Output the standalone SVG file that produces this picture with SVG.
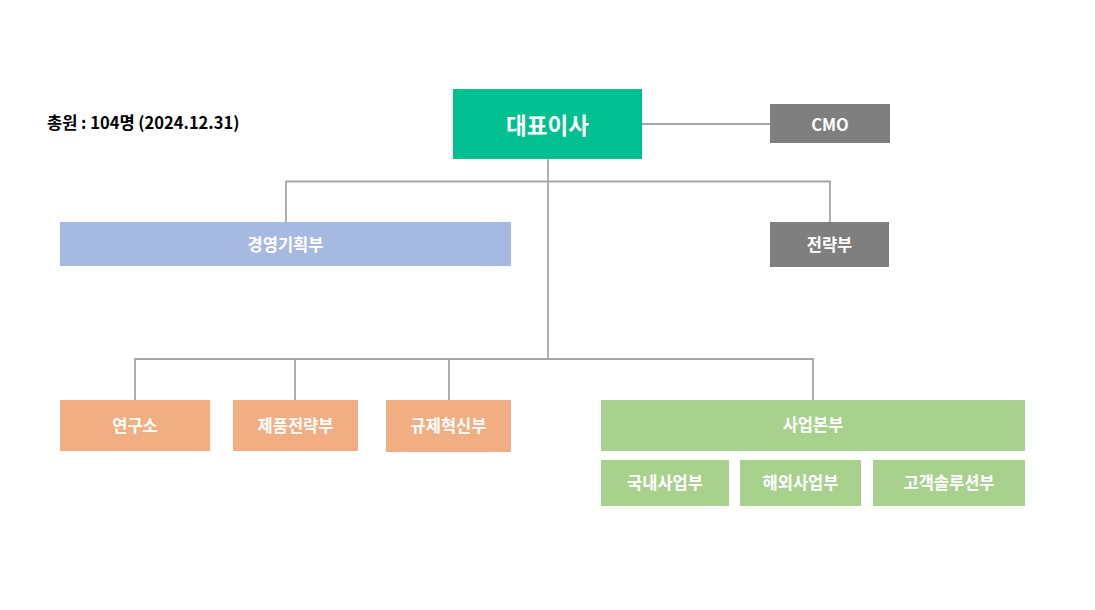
<svg xmlns="http://www.w3.org/2000/svg" width="1095" height="610" viewBox="0 0 1095 610">
<style>
.t{font-family:"Noto Sans CJK KR","Liberation Sans",sans-serif;font-weight:bold;fill:#ffffff;text-anchor:middle;dominant-baseline:central;font-size:16.5px}
.conn{stroke:#a6a6a6;stroke-width:1.8;fill:none}
.ceo{fill:#00bf91}
.gray{fill:#7f7f7f}
.blue{fill:#a6b9e1}
.orange{fill:#f2ae83}
.green{fill:#a9d18e}
</style>
<rect width="1095" height="610" fill="#ffffff"/>
<text x="47" y="122" style="font-family:'Noto Sans CJK KR','Liberation Sans',sans-serif;font-weight:bold;font-size:16.5px;fill:#000000;dominant-baseline:central">총원 : 104명 (2024.12.31)</text>
<g id="connectors">
<path class="conn" d="M642 124 H770"/>
<path class="conn" d="M548 159 V359"/>
<path class="conn" d="M286 222 V181.5 H830 V222"/>
<path class="conn" d="M135 400 V359 H813 V400"/>
<path class="conn" d="M295 359 V400"/>
<path class="conn" d="M449 359 V400"/>
</g>
<g id="ceo"><rect class="ceo" x="453" y="89" width="189" height="70"/><text class="t" x="547.5" y="124" style="font-size:22.5px">대표이사</text></g>
<g id="cmo"><rect class="gray" x="770" y="104" width="120" height="39"/><text class="t" x="830" y="123.5">CMO</text></g>
<g id="planning"><rect class="blue" x="60" y="222" width="451" height="44"/><text class="t" x="285.5" y="243.5">경영기획부</text></g>
<g id="strategy"><rect class="gray" x="770" y="222" width="119" height="45"/><text class="t" x="829.5" y="243.5">전략부</text></g>
<g id="lab"><rect class="orange" x="60" y="400" width="150" height="51"/><text class="t" x="135" y="424.5">연구소</text></g>
<g id="product"><rect class="orange" x="233" y="400" width="125" height="51"/><text class="t" x="295.5" y="424.5">제품전략부</text></g>
<g id="regulation"><rect class="orange" x="386" y="400" width="125" height="52"/><text class="t" x="448.5" y="425">규제혁신부</text></g>
<g id="business"><rect class="green" x="601" y="400" width="424" height="51"/><text class="t" x="813" y="423.5">사업본부</text></g>
<g id="domestic"><rect class="green" x="601" y="460" width="128" height="46"/><text class="t" x="665" y="482">국내사업부</text></g>
<g id="overseas"><rect class="green" x="740" y="460" width="121" height="46"/><text class="t" x="800.5" y="482">해외사업부</text></g>
<g id="customer"><rect class="green" x="873" y="460" width="152" height="46"/><text class="t" x="949" y="482">고객솔루션부</text></g>
</svg>
